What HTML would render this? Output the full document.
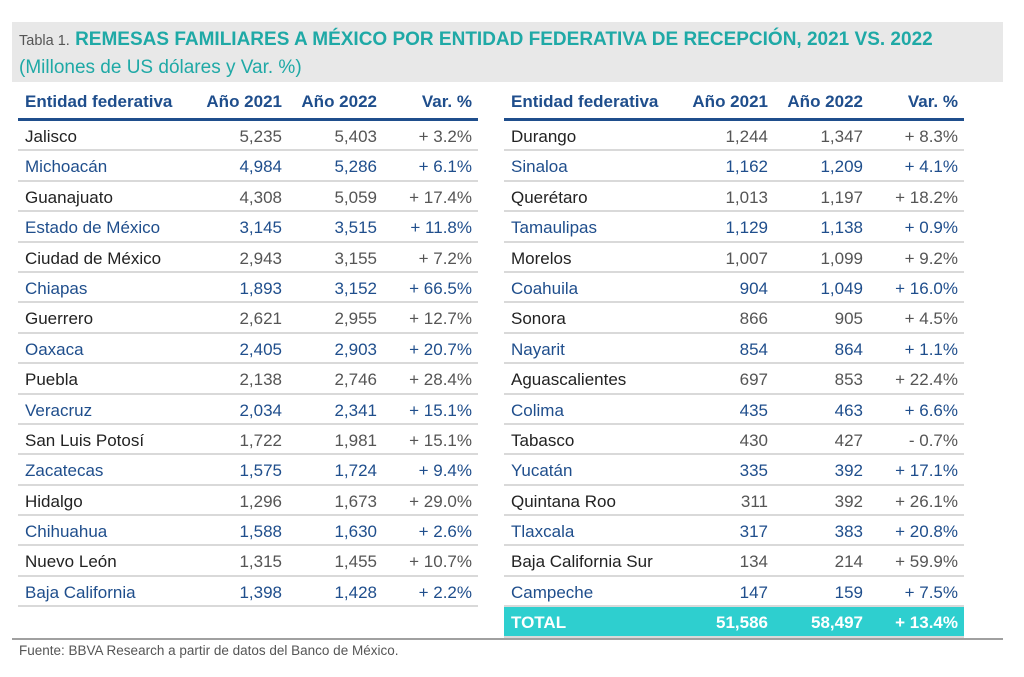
<!DOCTYPE html><html><head><meta charset="utf-8"><style>
body{margin:0;width:1024px;height:677px;background:#fff;font-family:"Liberation Sans",sans-serif;position:relative;overflow:hidden}
.hd{position:absolute;left:12px;top:22px;width:991px;height:60px;background:#e8e8e8}
.t1{position:absolute;left:19px;top:29px;font-size:19px;font-weight:bold;color:#1fa9a6;white-space:nowrap}
.t1 span{font-weight:normal;font-size:14.5px;color:#555}
.t2{position:absolute;left:19px;top:57px;font-size:19px;color:#1fa9a6}
.tb{position:absolute;top:88px;width:460px}
.r{position:relative;height:30.4px;box-sizing:border-box;border-bottom:2px solid #d9d9d9;font-size:17px;line-height:31px}
.r div{position:absolute;top:0}
.n{left:7px}.a{right:196px}.b{right:101px}.c{right:6px}
.h{height:33px;border-bottom:3px solid #1f4e8c;color:#1f4e8c;font-weight:bold;line-height:28px}
.o{color:#222}.o .a,.o .b,.o .c{color:#555}
.e{color:#1f4e8c}
.tot{background:#2ecfcf;color:#fff;font-weight:bold;border-bottom:2px solid #d9d9d9}
.bl{position:absolute;left:12px;top:638px;width:991px;height:2px;background:#a0a0a0}
.src{position:absolute;left:19px;top:643px;font-size:13.5px;color:#555}
</style></head><body>
<div class="hd"></div>
<div class="t1"><span>Tabla 1.</span> REMESAS FAMILIARES A MÉXICO POR ENTIDAD FEDERATIVA DE RECEPCIÓN, 2021 VS. 2022</div>
<div class="t2">(Millones de US dólares y Var. %)</div>
<div class="tb" style="left:18px">
<div class="r h"><div class="n">Entidad federativa</div><div class="a">Año 2021</div><div class="b">Año 2022</div><div class="c">Var. %</div></div>
<div class="r o"><div class="n">Jalisco</div><div class="a">5,235</div><div class="b">5,403</div><div class="c">+ 3.2%</div></div>
<div class="r e"><div class="n">Michoacán</div><div class="a">4,984</div><div class="b">5,286</div><div class="c">+ 6.1%</div></div>
<div class="r o"><div class="n">Guanajuato</div><div class="a">4,308</div><div class="b">5,059</div><div class="c">+ 17.4%</div></div>
<div class="r e"><div class="n">Estado de México</div><div class="a">3,145</div><div class="b">3,515</div><div class="c">+ 11.8%</div></div>
<div class="r o"><div class="n">Ciudad de México</div><div class="a">2,943</div><div class="b">3,155</div><div class="c">+ 7.2%</div></div>
<div class="r e"><div class="n">Chiapas</div><div class="a">1,893</div><div class="b">3,152</div><div class="c">+ 66.5%</div></div>
<div class="r o"><div class="n">Guerrero</div><div class="a">2,621</div><div class="b">2,955</div><div class="c">+ 12.7%</div></div>
<div class="r e"><div class="n">Oaxaca</div><div class="a">2,405</div><div class="b">2,903</div><div class="c">+ 20.7%</div></div>
<div class="r o"><div class="n">Puebla</div><div class="a">2,138</div><div class="b">2,746</div><div class="c">+ 28.4%</div></div>
<div class="r e"><div class="n">Veracruz</div><div class="a">2,034</div><div class="b">2,341</div><div class="c">+ 15.1%</div></div>
<div class="r o"><div class="n">San Luis Potosí</div><div class="a">1,722</div><div class="b">1,981</div><div class="c">+ 15.1%</div></div>
<div class="r e"><div class="n">Zacatecas</div><div class="a">1,575</div><div class="b">1,724</div><div class="c">+ 9.4%</div></div>
<div class="r o"><div class="n">Hidalgo</div><div class="a">1,296</div><div class="b">1,673</div><div class="c">+ 29.0%</div></div>
<div class="r e"><div class="n">Chihuahua</div><div class="a">1,588</div><div class="b">1,630</div><div class="c">+ 2.6%</div></div>
<div class="r o"><div class="n">Nuevo León</div><div class="a">1,315</div><div class="b">1,455</div><div class="c">+ 10.7%</div></div>
<div class="r e"><div class="n">Baja California</div><div class="a">1,398</div><div class="b">1,428</div><div class="c">+ 2.2%</div></div>
</div>
<div class="tb" style="left:504px">
<div class="r h"><div class="n">Entidad federativa</div><div class="a">Año 2021</div><div class="b">Año 2022</div><div class="c">Var. %</div></div>
<div class="r o"><div class="n">Durango</div><div class="a">1,244</div><div class="b">1,347</div><div class="c">+ 8.3%</div></div>
<div class="r e"><div class="n">Sinaloa</div><div class="a">1,162</div><div class="b">1,209</div><div class="c">+ 4.1%</div></div>
<div class="r o"><div class="n">Querétaro</div><div class="a">1,013</div><div class="b">1,197</div><div class="c">+ 18.2%</div></div>
<div class="r e"><div class="n">Tamaulipas</div><div class="a">1,129</div><div class="b">1,138</div><div class="c">+ 0.9%</div></div>
<div class="r o"><div class="n">Morelos</div><div class="a">1,007</div><div class="b">1,099</div><div class="c">+ 9.2%</div></div>
<div class="r e"><div class="n">Coahuila</div><div class="a">904</div><div class="b">1,049</div><div class="c">+ 16.0%</div></div>
<div class="r o"><div class="n">Sonora</div><div class="a">866</div><div class="b">905</div><div class="c">+ 4.5%</div></div>
<div class="r e"><div class="n">Nayarit</div><div class="a">854</div><div class="b">864</div><div class="c">+ 1.1%</div></div>
<div class="r o"><div class="n">Aguascalientes</div><div class="a">697</div><div class="b">853</div><div class="c">+ 22.4%</div></div>
<div class="r e"><div class="n">Colima</div><div class="a">435</div><div class="b">463</div><div class="c">+ 6.6%</div></div>
<div class="r o"><div class="n">Tabasco</div><div class="a">430</div><div class="b">427</div><div class="c">- 0.7%</div></div>
<div class="r e"><div class="n">Yucatán</div><div class="a">335</div><div class="b">392</div><div class="c">+ 17.1%</div></div>
<div class="r o"><div class="n">Quintana Roo</div><div class="a">311</div><div class="b">392</div><div class="c">+ 26.1%</div></div>
<div class="r e"><div class="n">Tlaxcala</div><div class="a">317</div><div class="b">383</div><div class="c">+ 20.8%</div></div>
<div class="r o"><div class="n">Baja California Sur</div><div class="a">134</div><div class="b">214</div><div class="c">+ 59.9%</div></div>
<div class="r e"><div class="n">Campeche</div><div class="a">147</div><div class="b">159</div><div class="c">+ 7.5%</div></div>
<div class="r tot"><div class="n">TOTAL</div><div class="a">51,586</div><div class="b">58,497</div><div class="c">+ 13.4%</div></div>
</div>
<div class="bl"></div>
<div class="src">Fuente: BBVA Research a partir de datos del Banco de México.</div>
</body></html>
